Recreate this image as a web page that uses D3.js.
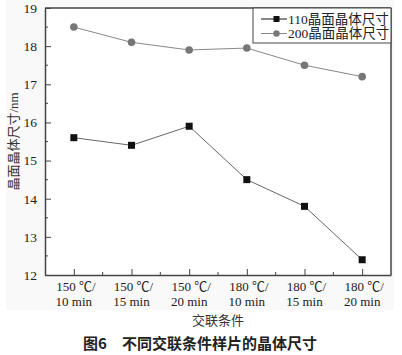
<!DOCTYPE html>
<html><head><meta charset="utf-8">
<script src="https://cdn.jsdelivr.net/npm/d3@7"></script>
<style>body{margin:0;background:#fff}svg{display:block}</style>
</head><body>
<script>
const categories = [["150 ℃/","10 min"],["150 ℃/","15 min"],["150 ℃/","20 min"],["180 ℃/","10 min"],["180 ℃/","15 min"],["180 ℃/","20 min"]];
const series110 = [15.6, 15.4, 15.9, 14.5, 13.8, 12.4];
const series200 = [18.5, 18.1, 17.9, 17.95, 17.5, 17.2];
const seriesNames = ["110晶面晶体尺寸", "200晶面晶体尺寸"];
const yTicks = [12, 13, 14, 15, 16, 17, 18, 19];
const yLabel = "晶面晶体尺寸/nm";
const xLabel = "交联条件";
const caption = "图6\u3000不同交联条件样片的晶体尺寸";

const W = 402, H = 355;
const m = {l: 45, r: 391, t: 8, b: 275};
const serif = "'Liberation Serif','Times New Roman','Noto Sans CJK SC',serif";
const sans = "'Noto Sans CJK SC','Noto Sans',sans-serif";

const svg = d3.select("body").append("svg").attr("width", W).attr("height", H);
svg.append("rect").attr("x", 6).attr("y", 0).attr("width", 388).attr("height", 310).attr("fill", "#f9f9f9");
svg.append("rect").attr("x", m.l).attr("y", m.t).attr("width", m.r - m.l).attr("height", m.b - m.t).attr("fill", "#fff");

const idx = categories.map((d, i) => i);
const x = d3.scalePoint().domain(idx).range([m.l, m.r]).padding(0.5);
const y = d3.scaleLinear().domain([12, 19]).range([m.b, m.t]);
const step = x.step();

const axisColor = "#444";
const gx = svg.append("g").attr("transform", `translate(0,${m.b})`)
  .call(d3.axisBottom(x).tickSizeInner(-6).tickSizeOuter(0).tickFormat(() => ""));
gx.select(".domain").attr("stroke", axisColor).attr("stroke-width", 1.5);
gx.selectAll(".tick line").attr("stroke", axisColor);
svg.append("g").selectAll("line").data(idx.slice(0, -1)).join("line")
  .attr("x1", d => x(d) + step / 2).attr("x2", d => x(d) + step / 2)
  .attr("y1", m.b).attr("y2", m.b - 3).attr("stroke", axisColor);
const xl = svg.append("g").selectAll("text").data(idx).join("text")
  .attr("text-anchor", "middle").attr("font-family", serif).attr("font-size", 13).attr("fill", "#222");
xl.append("tspan").attr("x", d => x(d) + 2).attr("y", m.b + 16).text(d => categories[d][0]);
xl.append("tspan").attr("x", d => x(d)).attr("y", m.b + 31).text(d => categories[d][1]);

const gy = svg.append("g").attr("transform", `translate(${m.l},0)`)
  .call(d3.axisLeft(y).tickValues(yTicks).tickSizeInner(-6).tickSizeOuter(0).tickPadding(8).tickFormat(d3.format("d")));
gy.attr("font-family", serif);
gy.select(".domain").attr("stroke", axisColor).attr("stroke-width", 1.5);
gy.selectAll(".tick line").attr("stroke", axisColor);
gy.selectAll(".tick text").attr("font-family", serif).attr("font-size", 13.5).attr("fill", "#222");
svg.append("g").selectAll("line").data(yTicks.slice(0, -1).map(v => v + 0.5)).join("line")
  .attr("x1", m.l).attr("x2", m.l + 3).attr("y1", d => y(d)).attr("y2", d => y(d)).attr("stroke", axisColor);
svg.append("line").attr("x1", m.l).attr("x2", m.r).attr("y1", m.t).attr("y2", m.t).attr("stroke", axisColor).attr("stroke-width", 1.5);
svg.append("line").attr("x1", m.r).attr("x2", m.r).attr("y1", m.t).attr("y2", m.b).attr("stroke", axisColor).attr("stroke-width", 1.5);

const line = d3.line().x((d, i) => x(i)).y(d => y(d));
svg.append("path").datum(series200).attr("d", line).attr("fill", "none").attr("stroke", "#888").attr("stroke-width", 1);
svg.append("path").datum(series110).attr("d", line).attr("fill", "none").attr("stroke", "#666").attr("stroke-width", 1);
svg.append("g").selectAll("circle").data(series200).join("circle")
  .attr("cx", (d, i) => x(i)).attr("cy", d => y(d)).attr("r", 3.8).attr("fill", "#777");
svg.append("g").selectAll("rect").data(series110).join("rect")
  .attr("x", (d, i) => x(i) - 3.5).attr("y", d => y(d) - 3.5).attr("width", 7).attr("height", 7).attr("fill", "#111");

const lg = svg.append("g");
lg.append("rect").attr("x", 253).attr("y", m.t).attr("width", m.r - 253).attr("height", 35)
  .attr("fill", "#fff").attr("stroke", axisColor).attr("stroke-width", 1);
const legendRows = [{name: seriesNames[0], ly: 19, type: "sq"}, {name: seriesNames[1], ly: 33.5, type: "ci"}];
legendRows.forEach(r => {
  lg.append("line").attr("x1", 261).attr("x2", 287).attr("y1", r.ly).attr("y2", r.ly)
    .attr("stroke", r.type === "sq" ? "#111" : "#888").attr("stroke-width", 1);
  if (r.type === "sq") lg.append("rect").attr("x", 273.5).attr("y", r.ly - 3).attr("width", 6).attr("height", 6).attr("fill", "#111");
  else lg.append("circle").attr("cx", 276.5).attr("cy", r.ly).attr("r", 3.2).attr("fill", "#777");
  lg.append("text").attr("x", 288).attr("y", r.ly + 4.5).attr("font-family", serif).attr("font-size", 13.5).attr("fill", "#222").text(r.name);
});

svg.append("text").attr("transform", `translate(18,${(m.t + m.b) / 2}) rotate(-90)`)
  .attr("text-anchor", "middle").attr("font-family", serif).attr("font-size", 13).attr("fill", "#333").text(yLabel);
svg.append("text").attr("x", (m.l + m.r) / 2).attr("y", 325).attr("text-anchor", "middle")
  .attr("font-family", serif).attr("font-size", 13).attr("fill", "#333").text(xLabel);
svg.append("text").attr("x", 200).attr("y", 349).attr("text-anchor", "middle")
  .attr("font-family", sans).attr("font-size", 15).attr("font-weight", "bold").attr("fill", "#222").text(caption);
</script>
</body></html>
